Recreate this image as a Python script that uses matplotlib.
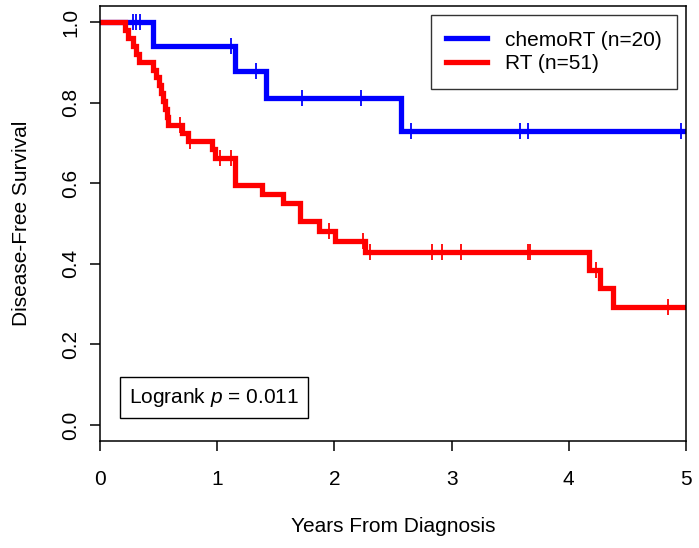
import numpy as np
import matplotlib
matplotlib.use("Agg")
import matplotlib.pyplot as plt

plt.rcParams['font.family'] = ['Liberation Sans', 'DejaVu Sans']
plt.rcParams['mathtext.fontset'] = 'custom'
plt.rcParams['mathtext.rm'] = 'Liberation Sans'
plt.rcParams['mathtext.it'] = 'Liberation Sans:italic'

# chemoRT (n=20): step times / survival after each step, censor times
chemo_times = [0.0, 0.45, 1.15, 1.42, 2.57, 5.0]
chemo_surv = [1.0, 0.941, 0.878, 0.811, 0.730, 0.730]
chemo_cens = [0.28, 0.31, 0.34, 1.115, 1.33, 1.72, 2.23, 2.65, 3.58, 3.65, 4.96]

# RT (n=51)
rt_times = [0.0, 0.213, 0.242, 0.284, 0.307, 0.336, 0.455, 0.475, 0.50, 0.52,
            0.54, 0.555, 0.57, 0.583, 0.70, 0.75, 0.953, 0.98, 1.15, 1.385,
            1.565, 1.71, 1.865, 2.005, 2.26, 4.175, 4.27, 4.38, 5.0]
rt_surv = [1.0, 0.980, 0.961, 0.941, 0.922, 0.902, 0.882, 0.863, 0.843, 0.824,
           0.804, 0.784, 0.765, 0.745, 0.725, 0.705, 0.684, 0.663, 0.596, 0.574,
           0.550, 0.505, 0.482, 0.457, 0.430, 0.385, 0.339, 0.292, 0.292]
rt_cens = [0.68, 0.77, 1.02, 1.12, 1.955, 2.245, 2.30, 2.83, 2.92, 3.08,
           3.655, 3.67, 4.23, 4.85]

labels = ['chemoRT (n=20)', 'RT (n=51)']
colors = ['#0000FF', '#FF0000']
logrank_text = 'Logrank $p$ = 0.011'


def level_at(times, surv, t):
    idx = np.searchsorted(times, t, side='right') - 1
    return np.array(surv)[idx]


fig = plt.figure(figsize=(6.99, 5.48), dpi=100)
ax = fig.add_axes([100 / 699, 1 - 441 / 548, 586 / 699, 435 / 548])

groups = [(chemo_times, chemo_surv, chemo_cens), (rt_times, rt_surv, rt_cens)]
for (tt, ss, cc), lab, col in zip(groups, labels, colors):
    ax.step(tt, ss, where='post', color=col, lw=3.8, label=lab,
            solid_joinstyle='miter')
    ax.plot(cc, level_at(tt, ss, cc), ls='none', marker='|', ms=11, mew=1.3,
            color=col)

ax.set_xlim(0, 5)
ax.set_ylim(-0.04, 1.04)
ax.set_xticks(range(6))
ax.set_yticks([0.0, 0.2, 0.4, 0.6, 0.8, 1.0])
ax.set_yticklabels(['0.0', '0.2', '0.4', '0.6', '0.8', '1.0'], rotation=90,
                   va='center')
ax.tick_params(axis='both', direction='out', length=7, width=1.1,
               labelsize=15)
ax.tick_params(axis='x', pad=14)
ax.tick_params(axis='y', pad=7)
for sp in ax.spines.values():
    sp.set_linewidth(1.1)
    sp.set_color('black')

ax.set_xlabel('Years From Diagnosis', fontsize=15, labelpad=20)
ax.set_ylabel('Disease-Free Survival', fontsize=15, labelpad=22)

leg = ax.legend(loc='upper right', bbox_to_anchor=(0.9846, 0.979),
                borderaxespad=0, fontsize=15, handlelength=1.95,
                handletextpad=0.85, borderpad=0.75, labelspacing=0.22,
                fancybox=False, framealpha=1, edgecolor='#333333')
leg.get_frame().set_linewidth(1.0)

ax.text(0.1945, 0.100, logrank_text, transform=ax.transAxes, fontsize=15,
        ha='center', va='center',
        bbox=dict(boxstyle='square,pad=0.42', fc='white', ec='black', lw=1.0))

fig.savefig('out.png', dpi=100)
